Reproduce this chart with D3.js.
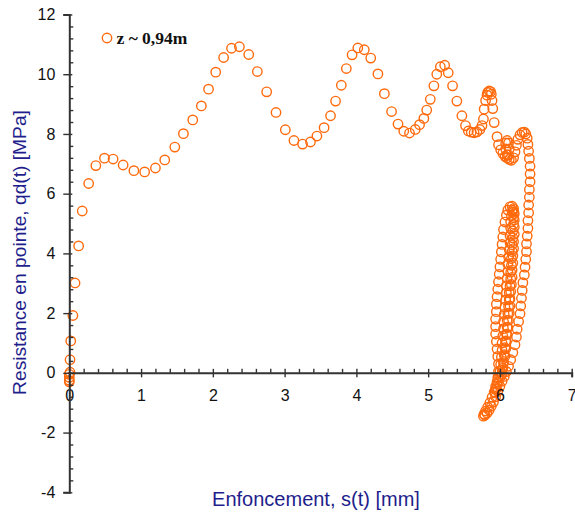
<!DOCTYPE html>
<html>
<head>
<meta charset="utf-8">
<script src="https://cdn.jsdelivr.net/npm/d3@7"></script>
<style>
  html, body { margin: 0; padding: 0; background: #ffffff; }
  svg { display: block; }
</style>
</head>
<body>
<svg id="chart" width="575" height="512"></svg>
<script>
// ---- data (s in mm, qd in MPa) ----
const initialPenetration = [
  [0.00,-0.05],[0.00,-0.15],[0.00,-0.25],[0.00,-0.30],[0.01,0.02],[0.01,0.44],[0.02,1.07],[0.05,1.92],
  [0.08,3.01],[0.13,4.25],[0.18,5.42],[0.27,6.34],[0.37,6.94],[0.49,7.19],[0.61,7.16],[0.75,6.96],
  [0.90,6.77],[1.05,6.73],[1.20,6.86],[1.33,7.13],[1.47,7.56],[1.59,8.01],[1.72,8.47],[1.84,8.94],
  [1.94,9.50],[2.04,10.07],[2.15,10.56],[2.26,10.87],[2.37,10.92],[2.50,10.66],[2.62,10.09],[2.75,9.41],
  [2.88,8.72],[3.01,8.14],[3.13,7.78],[3.25,7.66],[3.36,7.73],[3.45,7.93],[3.55,8.21],[3.64,8.61],
  [3.71,9.10],[3.79,9.63],[3.86,10.19],[3.94,10.65],[4.02,10.88],[4.11,10.82],[4.20,10.54],[4.30,10.01],
  [4.39,9.35],[4.49,8.75],[4.58,8.33],[4.66,8.09],[4.74,8.03],[4.82,8.15],[4.88,8.31],[4.94,8.52],
  [4.98,8.80],[5.03,9.16],[5.08,9.61],[5.12,10.00],[5.17,10.25],[5.23,10.30],[5.28,10.05],[5.34,9.61],
  [5.40,9.10],[5.47,8.61],[5.52,8.28],[5.56,8.10]
];
const finalApproach = [
  [5.60,8.06],[5.64,8.04],[5.68,8.07],[5.72,8.15],[5.75,8.28],[5.77,8.50],[5.78,8.83],[5.80,9.12],
  [5.82,9.30],[5.83,9.39],[5.85,9.44],[5.87,9.42],[5.88,9.33],[5.89,9.12],[5.90,8.85],[5.92,8.38],
  [5.96,7.91],[5.98,7.64],[6.01,7.47],[6.04,7.35],[6.07,7.25],[6.10,7.20],[6.12,7.30],[6.13,7.50],
  [6.12,7.70],[6.10,7.78],[6.08,7.70],[6.08,7.50],[6.10,7.30],[6.13,7.15],[6.16,7.12],[6.19,7.20],
  [6.21,7.40],[6.23,7.62],[6.25,7.82],[6.28,7.97],[6.31,8.05],[6.34,8.06],[6.36,8.00],[6.38,7.86],
  [6.39,7.65],[6.40,7.42]
];
const firstUnloading = [
  [6.41,7.18],[6.42,6.92],[6.42,6.66],[6.42,6.40],[6.41,6.14],[6.41,5.88],[6.40,5.62],[6.40,5.36],
  [6.39,5.10],[6.39,4.84],[6.38,4.58],[6.37,4.32],[6.37,4.06],[6.36,3.80],[6.35,3.54],[6.34,3.28],
  [6.32,3.02],[6.31,2.76],[6.30,2.50],[6.29,2.24],[6.28,1.98],[6.26,1.72],[6.24,1.46],[6.23,1.20],
  [6.21,0.94],[6.18,0.68],[6.15,0.44],[6.12,0.22],[6.09,0.04],[6.06,-0.12],[6.03,-0.28],[6.00,-0.45],
  [5.97,-0.62],[5.94,-0.80],[5.91,-0.98],[5.88,-1.12],[5.85,-1.25],[5.82,-1.35],[5.79,-1.42],[5.77,-1.45]
];
const firstReloading = [
  [5.78,-1.38],[5.80,-1.28],[5.83,-1.15],[5.86,-1.00],[5.89,-0.82],[5.92,-0.64],[5.94,-0.46],[5.96,-0.30],
  [5.97,-0.15],[5.98,0.05],[5.98,0.30],[5.97,0.55],[5.96,0.80],[5.95,1.05],[5.94,1.30],[5.94,1.55],
  [5.94,1.80],[5.95,2.05],[5.95,2.30],[5.96,2.55],[5.97,2.80],[5.98,3.05],[5.99,3.30],[6.00,3.55],
  [6.01,3.80],[6.02,4.05],[6.03,4.30],[6.04,4.55],[6.05,4.80],[6.07,5.05],[6.09,5.28],[6.11,5.45],
  [6.14,5.56],[6.17,5.58],[6.19,5.50],[6.20,5.33]
];
const secondUnloading = [
  [6.20,5.12],[6.20,4.88],[6.20,4.64],[6.19,4.40],[6.19,4.16],[6.18,3.92],[6.18,3.68],[6.17,3.44],
  [6.17,3.20],[6.16,2.96],[6.15,2.72],[6.14,2.48],[6.14,2.24],[6.13,2.00],[6.12,1.76],[6.11,1.52],
  [6.10,1.28],[6.09,1.04],[6.08,0.80],[6.07,0.56],[6.05,0.32],[6.03,0.10],[6.01,-0.12],[5.98,-0.32],
  [5.95,-0.52],[5.93,-0.65],[5.94,-0.55],[5.96,-0.38],[5.98,-0.18]
];
const secondCycle = [
  [6.00,0.05],[6.01,0.28],[6.02,0.52],[6.03,0.76],[6.03,1.00],[6.04,1.24],[6.05,1.48],[6.05,1.72],
  [6.06,1.96],[6.07,2.20],[6.08,2.44],[6.09,2.68],[6.09,2.92],[6.10,3.16],[6.11,3.40],[6.11,3.64],
  [6.12,3.88],[6.13,4.12],[6.14,4.36],[6.14,4.60],[6.15,4.84],[6.15,5.06],[6.16,5.26],[6.17,5.40],
  [6.18,5.45],[6.19,5.38],[6.19,5.20],[6.19,4.98],[6.18,4.75],[6.18,4.52],[6.17,4.29],[6.17,4.06],
  [6.16,3.83],[6.16,3.60],[6.15,3.37],[6.15,3.14],[6.14,2.91],[6.13,2.68],[6.13,2.45],[6.12,2.22],
  [6.11,1.99],[6.10,1.76],[6.10,1.53],[6.09,1.30],[6.08,1.07],[6.07,0.84],[6.06,0.61],[6.05,0.38],
  [6.04,0.16],[6.03,-0.05]
];
const xTicks = [0, 1, 2, 3, 4, 5, 6, 7];
const yTicks = [-4, -2, 0, 2, 4, 6, 8, 10, 12];
const xMinorTicks = [0.2,0.4,0.6,0.8,1.2,1.4,1.6,1.8,2.2,2.4,2.6,2.8,3.2,3.4,3.6,3.8,4.2,4.4,4.6,4.8,5.2,5.4,5.6,5.8,6.2,6.4,6.6,6.8];
const yMinorTicks = [-3.6,-3.2,-2.8,-2.4,-1.6,-1.2,-0.8,-0.4,0.4,0.8,1.2,1.6,2.4,2.8,3.2,3.6,4.4,4.8,5.2,5.6,6.4,6.8,7.2,7.6,8.4,8.8,9.2,9.6,10.4,10.8,11.2,11.6];
const xTitle = "Enfoncement, s(t) [mm]";
const yTitle = "Resistance en pointe, qd(t) [MPa]";
const seriesLabel = "z ~ 0,94m";

const points = [].concat(initialPenetration, finalApproach, firstUnloading,
                         firstReloading, secondUnloading, secondCycle);

// ---- layout ----
const svg = d3.select("#chart");
const x = d3.scaleLinear().domain([0, 7]).range([69.3, 571.7]);
const y = d3.scaleLinear().domain([-4, 12]).range([492.3, 14.5]);
const axisColor = "#333333";
const markColor = "#ff6a0d";
const titleColor = "#1e1e8c";
const font = "Arial, 'Liberation Sans', sans-serif";

// markers
svg.append("g")
  .selectAll("circle")
  .data(points)
  .join("circle")
  .attr("cx", d => x(d[0]))
  .attr("cy", d => y(d[1]))
  .attr("r", 4.7)
  .attr("fill", "none")
  .attr("stroke", markColor)
  .attr("stroke-width", 1.4);

// x axis
const gx = svg.append("g").attr("transform", `translate(0,${y(0)})`);
gx.call(d3.axisBottom(x).tickValues(xMinorTicks).tickSize(-4).tickSizeOuter(0).tickFormat(""));
gx.call(g => g.select(".domain").remove());
const gxMaj = svg.append("g").attr("transform", `translate(0,${y(0)})`);
gxMaj.call(d3.axisBottom(x).tickValues(xTicks).tickSizeOuter(0).tickSize(4.5).tickPadding(12).tickFormat(d3.format("d")));
gxMaj.selectAll(".tick line").attr("y1", -4);
gxMaj.selectAll(".tick").filter(d => d === 0).select("line").remove();

// y axis
const gy = svg.append("g").attr("transform", `translate(${x(0)},0)`);
gy.call(d3.axisLeft(y).tickValues(yMinorTicks).tickSize(-4).tickSizeOuter(0).tickFormat(""));
gy.call(g => g.select(".domain").remove());
const gyMaj = svg.append("g").attr("transform", `translate(${x(0)},0)`);
gyMaj.call(d3.axisLeft(y).tickValues(yTicks).tickSizeOuter(0).tickSize(6).tickPadding(8).tickFormat(d => String(d).replace("\u2212", "-")));
gyMaj.selectAll(".tick line").attr("x1", 3);

[gx, gxMaj, gy, gyMaj].forEach(g => {
  g.selectAll("line").attr("stroke", axisColor).attr("stroke-width", 1.4);
  g.selectAll(".domain").attr("stroke", axisColor).attr("stroke-width", 2);
  g.selectAll("text").attr("fill", "#111").attr("font-size", 16).attr("font-family", font);
});

// titles
svg.append("text")
  .attr("x", 316).attr("y", 505.5)
  .attr("text-anchor", "middle")
  .attr("font-family", font).attr("font-size", 20)
  .attr("fill", titleColor)
  .text(xTitle);

svg.append("text")
  .attr("transform", "translate(26,252.5) rotate(-90)")
  .attr("text-anchor", "middle")
  .attr("font-family", font).attr("font-size", 19.2)
  .attr("fill", titleColor)
  .text(yTitle);

// legend
svg.append("circle")
  .attr("cx", 107).attr("cy", 38).attr("r", 4.7)
  .attr("fill", "none").attr("stroke", markColor).attr("stroke-width", 1.4);
svg.append("text")
  .attr("x", 116.5).attr("y", 43.5)
  .attr("font-family", "'Times New Roman', 'Liberation Serif', serif")
  .attr("font-weight", "bold").attr("font-size", 17.5)
  .attr("fill", "#111")
  .text(seriesLabel);
</script>
</body>
</html>
